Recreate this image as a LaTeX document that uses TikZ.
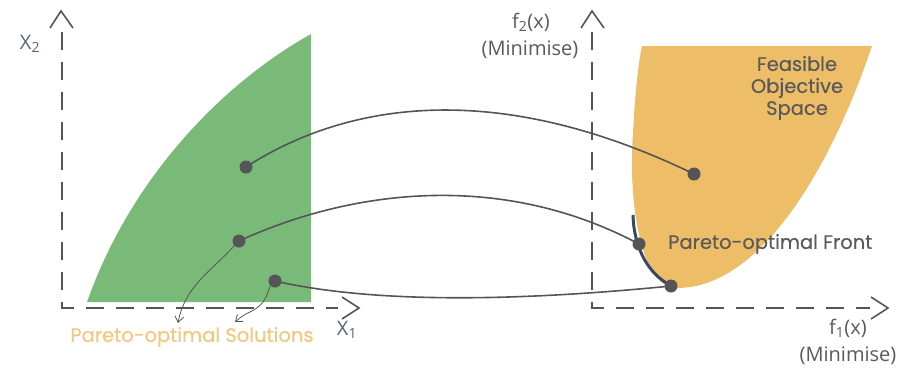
\documentclass[tikz,border=0pt]{standalone}
\usepackage{fontspec}
\setmainfont{Poppins}[BoldFont=Poppins, BoldFeatures={FakeBold=0.35}]
\newfontfamily\axisfont{Open Sans}
\usetikzlibrary{arrows.meta}
\definecolor{fgreen}{HTML}{79BA79}
\definecolor{forange}{HTML}{EEBD68}
\definecolor{lorange}{HTML}{F2C77E}
\definecolor{dgray}{HTML}{555555}
\definecolor{navy}{HTML}{3A4766}
\definecolor{axlab}{HTML}{55657A}
\definecolor{txgray}{HTML}{5A5A5A}
\tikzset{
  axisline/.style={dgray, line width=1.6pt, dash pattern=on 18pt off 12pt},
  chev/.style={dgray, line width=1.6pt, line join=miter},
  dot/.style={circle, fill=dgray, inner sep=0pt, minimum size=13pt},
  link/.style={dgray, line width=1.6pt},
  thin/.style={dgray, line width=0.8pt, -{Straight Barb[length=6pt,width=9pt]}},
  lbl/.style={inner sep=0pt},
  axfont/.style={font=\axisfont\fontsize{20}{24}\selectfont},
  mainfont/.style={font=\bfseries\fontsize{19.5}{22}\selectfont},
}
\begin{document}
\begin{tikzpicture}[x=1pt,y=-1pt]
\useasboundingbox (0,0) rectangle (914,368);
% regions
\fill[fgreen] (87,302) .. controls (130,180) and (220,85) .. (311,34) -- (311,302) -- cycle;
\fill[forange] (642,46) -- (872,46) .. controls (830,170) and (760,288) .. (677,288)
  .. controls (640,288) and (628,200) .. (633,133) .. controls (635,90) and (639,60) .. (642,46) -- cycle;
% axes left
\coordinate (lo) at (62,308);
\coordinate (ly) at (62,32);
\coordinate (lx) at (338,308);
\draw[axisline] (ly) -- (lo) -- (lx);
\draw[chev] (50,28) -- (61,11) -- (73,28);
\draw[chev] (342,297) -- (359,308) -- (342,319);
% axes right
\coordinate (ro) at (592,308);
\coordinate (ry) at (592,32);
\coordinate (rx) at (870,308);
\draw[axisline] (ry) -- (ro) -- (rx);
\draw[chev] (581,28) -- (592,11) -- (604,28);
\draw[chev] (871,297) -- (888,308) -- (871,319);
% pareto front
\draw[navy, line width=3pt] (633,215) .. controls (634,250) and (650,275) .. (670,285);
% dots
\node[dot] (a1) at (246,167) {};
\node[dot] (a2) at (239,241) {};
\node[dot] (a3) at (275,281) {};
\node[dot] (b1) at (694,174) {};
\node[dot] (b2) at (639,244) {};
\node[dot] (b3) at (671,286) {};
% links
\draw[link] (a1.center) .. controls (350,100) and (500,80) .. (b1.center);
\draw[link] (a2.center) .. controls (350,190) and (500,170) .. (b2.center);
\draw[link] (a3.center) .. controls (380,305) and (530,300) .. (b3.center);
% label arrows
\coordinate (t1) at (178,323);
\coordinate (t2) at (235,322);
\draw[thin] (a2.south west) .. controls (215,268) and (185,285) .. (t1);
\draw[thin] (a3.south west) .. controls (266,300) and (262,306) .. (250,312) .. controls (243,315) and (240,318) .. (t2);
% texts
\node[lbl, text=lorange, mainfont] (ps) at (192,337) {Pareto-optimal Solutions};
\node[lbl, text=axlab, axfont] (x2) at (30,44) {X\textsubscript{2}};
\node[lbl, text=axlab, axfont] (x1) at (347,330) {X\textsubscript{1}};
\node[lbl, text=txgray, axfont] (f2) at (531,22) {f\textsubscript{2}(x)};
\node[lbl, text=txgray, axfont] (m2) at (530,50) {(Minimise)};
\node[lbl, text=txgray, axfont] (f1) at (848,328) {f\textsubscript{1}(x)};
\node[lbl, text=txgray, axfont] (m1) at (848,356) {(Minimise)};
\node[lbl, text=txgray, mainfont, align=center] (fos) at (797,88) {Feasible\\Objective\\Space};
\node[lbl, text=txgray, mainfont, anchor=west] (pf) at (668,244) {Pareto-optimal Front};
\end{tikzpicture}
\end{document}
